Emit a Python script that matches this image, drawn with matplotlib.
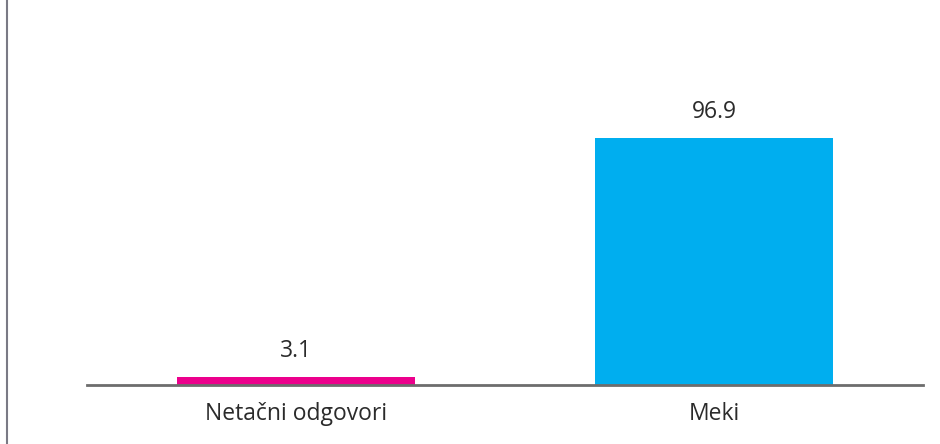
import matplotlib.pyplot as plt
from matplotlib.lines import Line2D

categories = ['Netačni odgovori', 'Meki']
values = [3.1, 96.9]
colors = ['#EC008C', '#00AEEF']

plt.rcParams['font.family'] = ['Open Sans', 'DejaVu Sans']

fig = plt.figure(figsize=(9.4, 4.44), dpi=100)
ax = fig.add_axes([87 / 940, 59 / 444, 836 / 940, 385 / 444])

x = list(range(len(categories)))
bars = ax.bar(x, values, width=0.57, color=colors, zorder=2)

for b, v in zip(bars, values):
    ax.text(b.get_x() + b.get_width() / 2, v + 5.5, f'{v:.1f}',
            ha='center', va='bottom', fontsize=16.5, color='#2b2b2b')

ax.set_xlim(-0.5, 1.5)
ax.set_ylim(0, 151)
ax.set_xticks(x)
ax.set_xticklabels(categories, fontsize=16.5, color='#2b2b2b')
ax.tick_params(axis='x', length=0, pad=12)
ax.set_yticks([])

for side in ['top', 'right', 'left']:
    ax.spines[side].set_visible(False)
ax.spines['bottom'].set_color('#6d6d6d')
ax.spines['bottom'].set_linewidth(2)

# frame line down the left edge
fig.add_artist(Line2D([7.5 / 940, 7.5 / 940], [0, 1], transform=fig.transFigure,
                      color='#7a7a85', linewidth=1.5))

fig.savefig('out.png', dpi=100)
